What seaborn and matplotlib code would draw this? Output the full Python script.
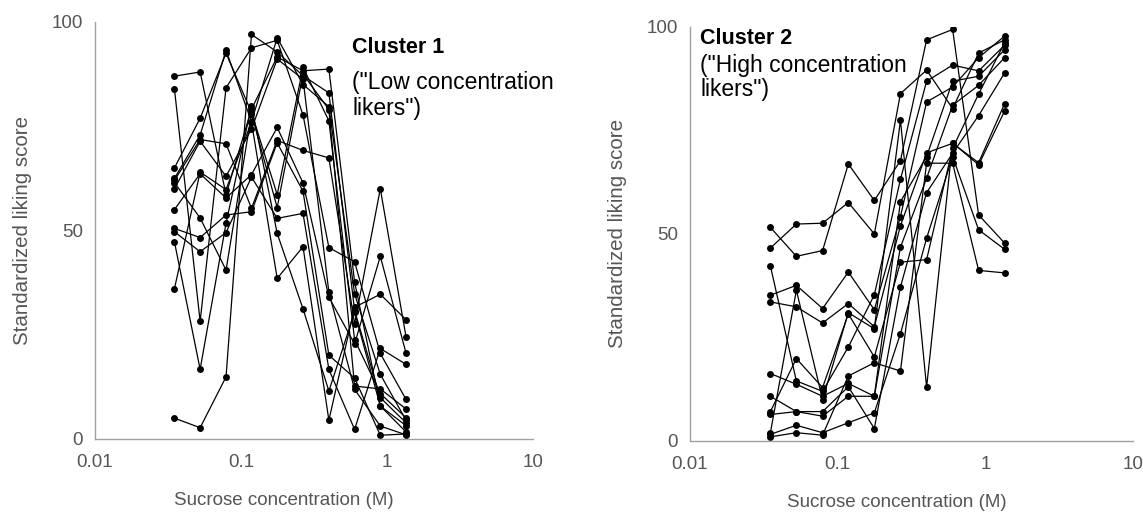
import numpy as np
import pandas as pd
import seaborn as sns
import matplotlib.pyplot as plt
from matplotlib.ticker import FixedLocator, MultipleLocator, LogLocator, NullFormatter

# sucrose concentrations (M)
conc = [0.035, 0.0525, 0.079, 0.118, 0.177, 0.266, 0.4, 0.6, 0.9, 1.35]

# cluster 1 - one row per subject
cluster1 = [
    [5.0, 2.7, 14.9, 97.0, 92.8, 87.1, 83.0, 30.8, 9.9, 3.9],
    [87.0, 88.0, 58.6, 79.1, 91.6, 88.3, 88.7, 37.7, 7.9, 1.7],
    [84.0, 28.2, 84.2, 93.8, 95.6, 77.7, 45.9, 42.5, 20.5, 9.5],
    [65.0, 76.9, 92.5, 78.3, 58.6, 89.1, 76.3, 23.8, 10.9, 5.1],
    [62.5, 72.9, 93.2, 76.1, 96.2, 85.0, 79.7, 34.8, 15.5, 4.5],
    [62.0, 71.8, 70.8, 55.3, 71.6, 69.2, 67.4, 27.6, 60.0, 24.5],
    [60.0, 71.4, 63.0, 74.3, 91.1, 86.3, 35.2, 11.9, 3.1, 1.0],
    [55.0, 63.6, 57.8, 63.4, 74.7, 61.4, 34.0, 22.8, 43.8, 20.6],
    [50.5, 48.3, 53.7, 54.5, 71.0, 59.4, 20.1, 14.6, 0.9, 1.2],
    [49.7, 44.9, 49.5, 62.8, 52.9, 54.1, 16.7, 2.3, 21.7, 17.9],
    [47.3, 16.7, 51.7, 79.9, 49.3, 31.2, 11.5, 30.4, 7.9, 3.2],
    [36.0, 64.0, 59.8, 76.0, 38.5, 46.1, 4.5, 31.6, 34.7, 28.6],
    [61.5, 53.0, 40.5, 78.0, 55.5, 87.5, 79.0, 12.7, 12.0, 7.2],
]

# cluster 2 - one row per subject
cluster2 = [
    [46.6, 52.4, 52.6, 57.6, 50.0, 83.9, 89.6, 80.3, 93.7, 96.9],
    [51.6, 44.6, 46.0, 66.9, 58.1, 67.7, 96.9, 99.4, 54.6, 47.8],
    [42.3, 14.5, 12.0, 22.7, 35.3, 63.2, 86.9, 90.8, 89.4, 95.6],
    [35.2, 37.6, 32.0, 40.8, 31.7, 54.2, 81.9, 85.5, 92.6, 97.8],
    [33.6, 32.4, 28.5, 33.2, 27.6, 52.0, 69.6, 71.9, 67.2, 81.5],
    [16.3, 13.7, 10.8, 13.9, 10.8, 57.8, 68.7, 86.9, 88.1, 94.5],
    [10.8, 7.1, 6.0, 10.8, 10.8, 46.8, 63.5, 81.1, 85.9, 92.6],
    [7.1, 19.9, 12.9, 30.7, 20.3, 43.2, 43.8, 70.7, 83.8, 96.2],
    [6.4, 7.1, 7.1, 13.1, 3.0, 37.2, 60.0, 69.5, 78.6, 88.9],
    [1.6, 3.8, 2.0, 4.4, 6.8, 25.9, 49.0, 68.7, 51.0, 46.3],
    [1.0, 2.0, 1.4, 15.7, 18.9, 16.9, 67.1, 67.1, 41.2, 40.6],
    [2.0, 36.4, 10.0, 31.0, 27.1, 77.5, 13.0, 72.0, 66.7, 79.7],
]

titles = ["Cluster 1", "Cluster 2"]
subtitles = [['("Low concentration', 'likers")'], ['("High concentration', 'likers")']]


def to_long(rows):
    recs = []
    for i, row in enumerate(rows):
        for c, v in zip(conc, row):
            recs.append({"subject": i, "conc": c, "score": v})
    return pd.DataFrame(recs)


sns.set_style("white")
plt.rcParams['font.family'] = ['Liberation Sans', 'DejaVu Sans']

fig = plt.figure(figsize=(11.43, 5.12), dpi=100)
ax1 = fig.add_axes([0.0831, 0.1426, 0.3832, 0.8145])
ax2 = fig.add_axes([0.6037, 0.1387, 0.3876, 0.8086])

grey = "#555555"
# text x, then y of title and two subtitle lines (axes fraction)
text_pos = [(0.587, [0.938, 0.856, 0.793]), (0.023, [0.973, 0.908, 0.848])]
xlabel_x = [0.43, 0.467]

for ax, rows, t, st, (tx, tys), lx in zip([ax1, ax2], [cluster1, cluster2], titles,
                                          subtitles, text_pos, xlabel_x):
    df = to_long(rows)
    sns.lineplot(data=df, x="conc", y="score", units="subject", estimator=None,
                 color="black", lw=0.9, marker="o", markersize=5,
                 markeredgewidth=0, ax=ax, legend=False)
    ax.set_xscale("log")
    ax.set_xlim(0.01, 10)
    ax.set_ylim(0, 100)
    ax.xaxis.set_major_locator(FixedLocator([0.01, 0.1, 1, 10]))
    ax.set_xticklabels(["0.01", "0.1", "1", "10"])
    ax.xaxis.set_minor_locator(LogLocator(base=10, subs=np.arange(2, 10)))
    ax.xaxis.set_minor_formatter(NullFormatter())
    ax.yaxis.set_major_locator(FixedLocator([0, 50, 100]))
    ax.yaxis.set_minor_locator(MultipleLocator(10))
    ax.tick_params(which="major", direction="out", length=5, width=0.8,
                   color="#a0a0a0", labelsize=13.5, labelcolor=grey)
    ax.tick_params(which="minor", direction="out", length=3, width=0.8, color="#a0a0a0")
    ax.tick_params(axis="x", pad=6)
    for s in ["top", "right"]:
        ax.spines[s].set_visible(False)
    for s in ["left", "bottom"]:
        ax.spines[s].set_color("#a0a0a0")
        ax.spines[s].set_linewidth(1)
    ax.set_xlabel("Sucrose concentration (M)", fontsize=13.5, color=grey, labelpad=15, x=lx)
    ax.set_ylabel("Standardized liking score", fontsize=14.8, color=grey, labelpad=14)
    ax.text(tx, tys[0], t, transform=ax.transAxes, fontsize=15.5,
            fontweight="bold", color="black", va="center", ha="left")
    for line, ty in zip(st, tys[1:]):
        ax.text(tx, ty, line, transform=ax.transAxes, fontsize=16.5,
                color="black", va="center", ha="left")

fig.savefig("out.png", dpi=100)
